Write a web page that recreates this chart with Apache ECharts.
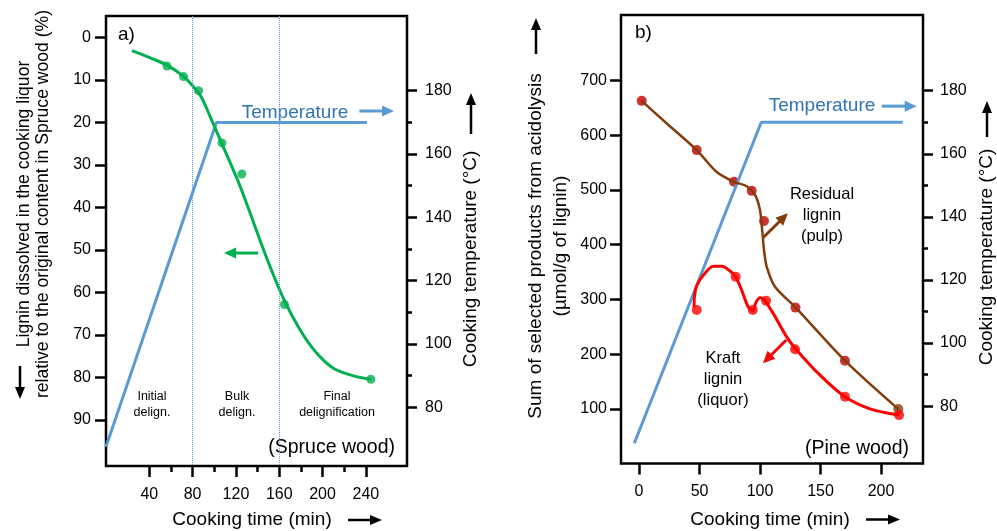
<!DOCTYPE html>
<html>
<head>
<meta charset="utf-8">
<script src="https://cdn.jsdelivr.net/npm/echarts@6/dist/echarts.min.js"></script>
<style>
  html, body { margin: 0; padding: 0; background: #fff; }
  #chart { width: 997px; height: 531px; }
</style>
</head>
<body>
<div id="chart"></div>
<script>
// ---- panel a) spruce wood ----
const timeTicksA = [40, 80, 120, 160, 200, 240]
const timeMinorA = [60, 100, 140, 180, 220]
const ligninTicksA = [0, 10, 20, 30, 40, 50, 60, 70, 80, 90]
const phaseLinesA = [80, 160]

const tempA = [[0, 67.6], [102, 170], [241, 170]]
const ligninCurveA = [
    [24, 3.1], [40.9, 4.8], [56.3, 6.5], [71.3, 9.1], [80.8, 11.6], [88, 14],
    [96.2, 18.6], [105.5, 24.1], [124, 35.1], [148.6, 52], [164.6, 61.8],
    [179.3, 68.8], [194.7, 74.3], [210, 77.8], [228.5, 79.6], [244.6, 80.4],
]
const ligninPointsA = [
    [56.3, 6.7], [71.6, 9.2], [85.5, 12.5], [107.1, 24.8], [125.5, 32.1], [164.8, 62.8], [244.6, 80.4],
]

// ---- panel b) pine wood ----
const timeTicksB = [0, 50, 100, 150, 200]
const productTicksB = [100, 200, 300, 400, 500, 600, 700]

const tempB = [[-3.9, 68.2], [101, 170], [218, 170]]
const residualCurveB = [
    [2.2, 663], [24.8, 618], [47.7, 573], [64.2, 533], [78.5, 515], [89, 507],
    [95.9, 491], [100, 463], [102, 421], [103.3, 390], [105.5, 360], [112.4, 323],
    [129.5, 285], [170.2, 188], [214.3, 99.5],
]
const residualPointsB = [
    [2.2, 663], [47.7, 573], [78.5, 515], [93.1, 498.5], [103.3, 443.5], [129.3, 285], [170.2, 188], [214.3, 99.5],
]
const kraftCurveB = [
    [45.5, 285.5], [45.9, 307.5], [47.9, 326], [53.1, 344], [61.4, 360.5], [68.3, 360.5],
    [75.2, 352], [79.9, 341], [84.9, 316.5], [90.3, 286], [94, 280], [96.7, 295],
    [100, 303], [103.3, 300], [111, 274], [122, 231.5], [129.3, 210], [149.6, 161.5],
    [170.2, 122], [190.9, 100], [214.9, 88.5],
]
const kraftPointsB = [
    [47.7, 280.5], [79.9, 341.5], [94, 280.5], [105, 297.5], [128.9, 209], [170.2, 122], [214.9, 88.5],
]

// shared temperature axis
const tempTicks = [80, 100, 120, 140, 160, 180]
const tempMinor = [90, 110, 130, 150, 170]

const FONT = "'Liberation Sans', Arial, sans-serif"
const GREEN = "#00b050"
const BLUE = "#5b9bd5"
const BLUE_TEXT = "#2e75b6"
const BROWN = "#843c0c"
const DARKRED = "#c00000"
const RED = "#ff0000"

const chart = echarts.init(document.getElementById("chart"), null, { renderer: "canvas" })

const axisBase = (o) =>
    Object.assign(
        {
            type: "value",
            splitLine: { show: false },
            axisLine: { show: false, onZero: false },
        },
        o
    )

const ticks = (values, length) => ({
    show: true,
    customValues: values,
    length: length,
    lineStyle: { color: "#000", width: 2.5 },
})

const labels = (values, margin) => ({
    customValues: values,
    fontSize: 16,
    color: "#000",
    fontFamily: FONT,
    margin: margin,
})

const noLabels = { show: false }

const option = {
    animation: false,
    grid: [
        { left: 106, top: 16, width: 301, height: 450, show: true, borderColor: "#000", borderWidth: 2.5 },
        { left: 621, top: 15, width: 302, height: 448.5, show: true, borderColor: "#000", borderWidth: 2.5 },
    ],
    xAxis: [
        axisBase({ gridIndex: 0, position: "bottom", min: 0, max: 278,
            axisTick: ticks(timeTicksA, 11), axisLabel: labels(timeTicksA, 21) }),
        axisBase({ gridIndex: 0, position: "bottom", min: 0, max: 278,
            axisTick: ticks(timeMinorA, 6), axisLabel: noLabels }),
        axisBase({ gridIndex: 1, position: "bottom", min: -14.9, max: 234.7,
            axisTick: ticks(timeTicksB, 11), axisLabel: labels(timeTicksB, 20) }),
    ],
    yAxis: [
        axisBase({ gridIndex: 0, inverse: true, min: -5.06, max: 100.8, position: "left",
            axisTick: ticks(ligninTicksA, 11), axisLabel: labels(ligninTicksA, 15) }),
        axisBase({ gridIndex: 0, min: 61.5, max: 203.6, position: "right",
            axisTick: ticks(tempTicks, 10), axisLabel: labels(tempTicks, 18) }),
        axisBase({ gridIndex: 0, min: 61.5, max: 203.6, position: "right",
            axisTick: ticks(tempMinor, 5), axisLabel: noLabels }),
        axisBase({ gridIndex: 1, min: 0, max: 820, position: "left",
            axisTick: ticks(productTicksB, 11), axisLabel: labels(productTicksB, 14) }),
        axisBase({ gridIndex: 1, min: 61.8, max: 204, position: "right",
            axisTick: ticks(tempTicks, 10), axisLabel: labels(tempTicks, 17) }),
        axisBase({ gridIndex: 1, min: 61.8, max: 204, position: "right",
            axisTick: ticks(tempMinor, 5), axisLabel: noLabels }),
    ],
    series: [
        {
            type: "line", xAxisIndex: 0, yAxisIndex: 1, data: tempA, showSymbol: false,
            lineStyle: { color: BLUE, width: 3 },
        },
        {
            type: "line", xAxisIndex: 0, yAxisIndex: 0, data: ligninCurveA, showSymbol: false,
            smooth: 0.3, lineStyle: { color: GREEN, width: 3 },
            markLine: {
                silent: true, symbol: "none", label: { show: false },
                lineStyle: { color: BLUE, width: 1, type: "dotted" },
                data: phaseLinesA.map((v) => ({ xAxis: v })),
            },
        },
        {
            type: "scatter", xAxisIndex: 0, yAxisIndex: 0, data: ligninPointsA,
            symbolSize: 9, itemStyle: { color: GREEN },
        },
        {
            type: "line", xAxisIndex: 2, yAxisIndex: 4, data: tempB, showSymbol: false,
            lineStyle: { color: BLUE, width: 3 },
        },
        {
            type: "line", xAxisIndex: 2, yAxisIndex: 3, data: residualCurveB, showSymbol: false,
            smooth: 0.3, lineStyle: { color: BROWN, width: 2.5 },
        },
        {
            type: "line", xAxisIndex: 2, yAxisIndex: 3, data: kraftCurveB, showSymbol: false,
            smooth: 0.3, lineStyle: { color: RED, width: 3 },
        },
        {
            type: "scatter", xAxisIndex: 2, yAxisIndex: 3, data: residualPointsB, symbolSize: 10,
            itemStyle: { color: (p) => (p.dataIndex === residualPointsB.length - 1 ? BROWN : DARKRED) },
        },
        {
            type: "scatter", xAxisIndex: 2, yAxisIndex: 3, data: kraftPointsB, symbolSize: 10,
            itemStyle: { color: RED },
        },
    ],
}

chart.setOption(option)

// arrows drawn as line + filled head
function arrow(x1, y1, x2, y2, color, width, head, half) {
    const dx = x2 - x1
    const dy = y2 - y1
    const len = Math.hypot(dx, dy)
    const ux = dx / len
    const uy = dy / len
    const bx = x2 - ux * head
    const by = y2 - uy * head
    return [
        { type: "line", silent: true, shape: { x1: x1, y1: y1, x2: bx + ux, y2: by + uy }, style: { stroke: color, lineWidth: width } },
        {
            type: "polygon", silent: true,
            shape: { points: [[x2, y2], [bx - uy * half, by + ux * half], [bx + uy * half, by - ux * half]] },
            style: { fill: color },
        },
    ]
}

// annotation arrows, given in data coordinates
const px = (xi, yi, pt) => chart.convertToPixel({ xAxisIndex: xi, yAxisIndex: yi }, pt)
const dataArrow = (xi, yi, from, to, color) => {
    const a = px(xi, yi, from)
    const b = px(xi, yi, to)
    return arrow(a[0], a[1], b[0], b[1], color, 3, 12, 5.5)
}

const text = (x, y, str, o) => ({
    type: "text", silent: true, x: x, y: y, rotation: (o && o.rotation) || 0,
    style: Object.assign(
        { text: str, fill: "#000", fontSize: 19, fontFamily: FONT, align: "center", verticalAlign: "middle" },
        o && o.style
    ),
})

const up = Math.PI / 2
const small = { fontSize: 12.5, lineHeight: 15.6 }
const mid = { fontSize: 16.5, lineHeight: 21 }

const graphics = [
    // panel a texts
    text(118, 35, "a)", { style: { align: "left" } }),
    text(295, 113, "Temperature", { style: { fill: BLUE_TEXT } }),
    text(152, 404.5, "Initial\ndelign.", { style: small }),
    text(237, 404.5, "Bulk\ndelign.", { style: small }),
    text(337, 404.5, "Final\ndelignification", { style: small }),
    text(395, 448, "(Spruce wood)", { style: { align: "right", fontSize: 19.5 } }),
    text(252, 520, "Cooking time (min)"),
    text(34, 204, "Lignin dissolved in the cooking liquor\nrelative to the original content in Spruce wood (%)",
        { rotation: up, style: { fontSize: 17.6, lineHeight: 19 } }),
    text(471, 259, "Cooking temperature (°C)", { rotation: up }),
    // panel b texts
    text(635, 33, "b)", { style: { align: "left" } }),
    text(822, 106, "Temperature", { style: { fill: BLUE_TEXT } }),
    text(822, 215.5, "Residual\nlignin\n(pulp)", { style: mid }),
    text(723, 379, "Kraft\nlignin\n(liquor)", { style: mid }),
    text(909, 448.5, "(Pine wood)", { style: { align: "right", fontSize: 19.5 } }),
    text(770, 519.5, "Cooking time (min)"),
    text(548, 246, "Sum of selected products from acidolysis\n(µmol/g of lignin)",
        { rotation: up, style: { lineHeight: 25 } }),
    text(987, 257, "Cooking temperature (°C)", { rotation: up }),
    // axis title arrows
    ...arrow(348, 520, 382, 520, "#000", 2.5, 12, 5),
    ...arrow(866, 519.5, 900, 519.5, "#000", 2.5, 12, 5),
    ...arrow(20, 366, 20, 399, "#000", 2.5, 12, 5),
    ...arrow(471, 134, 471, 93, "#000", 2.5, 12, 5),
    ...arrow(536, 54, 536, 18, "#000", 2.5, 12, 5),
    ...arrow(987, 137, 987, 101, "#000", 2.5, 12, 5),
    // data annotation arrows
    ...dataArrow(0, 0, [140.6, 50.7], [109, 50.7], GREEN),
    ...dataArrow(0, 1, [234, 173.6], [266, 173.6], BLUE),
    ...dataArrow(2, 4, [200.6, 175.1], [229.5, 175.1], BLUE),
    ...dataArrow(2, 3, [102.3, 412.3], [123, 457.4], BROWN),
    ...dataArrow(2, 3, [121.7, 225.9], [102.4, 183.3], RED),
]

chart.setOption({ graphic: graphics })
</script>
</body>
</html>
